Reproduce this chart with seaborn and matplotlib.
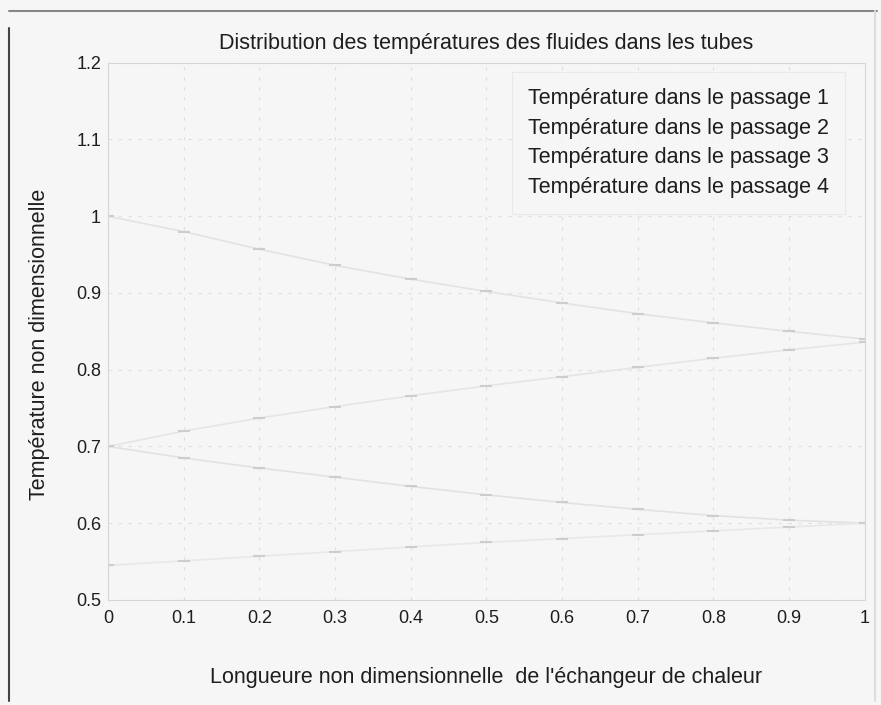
import numpy as np
import pandas as pd
import matplotlib
matplotlib.use("Agg")
import matplotlib.pyplot as plt
import seaborn as sns

x = [0.0, 0.1, 0.2, 0.3, 0.4, 0.5, 0.6, 0.7, 0.8, 0.9, 1.0]
passage1 = [1.000, 0.980, 0.957, 0.936, 0.918, 0.902, 0.887, 0.873, 0.861, 0.850, 0.840]
passage2 = [0.700, 0.720, 0.737, 0.752, 0.766, 0.779, 0.791, 0.803, 0.815, 0.826, 0.836]
passage3 = [0.700, 0.685, 0.672, 0.660, 0.648, 0.637, 0.627, 0.618, 0.610, 0.604, 0.600]
passage4 = [0.545, 0.551, 0.557, 0.563, 0.569, 0.575, 0.580, 0.585, 0.590, 0.595, 0.600]
labels = ["Température dans le passage 1", "Température dans le passage 2",
          "Température dans le passage 3", "Température dans le passage 4"]

frames = []
for lab, vals in zip(labels, [passage1, passage2, passage3, passage4]):
    frames.append(pd.DataFrame({"x": x, "y": vals, "passage": lab}))
df = pd.concat(frames, ignore_index=True)

sns.set_theme(style="white")
plt.rcParams["font.family"] = ["Liberation Sans", "DejaVu Sans"]

bg = "#f6f6f6"
txt = "#1e1e1e"
fig = plt.figure(figsize=(8.81, 7.05), dpi=100, facecolor=bg)
ax = fig.add_axes([0.1226, 0.149, 0.859, 0.762])
ax.set_facecolor(bg)

palette = ["#e3e3e3", "#e5e5e5", "#e2e2e2", "#e8e8e8"]
sns.lineplot(data=df, x="x", y="y", hue="passage", palette=palette,
             marker="_", markersize=9, linewidth=1.2, ax=ax,
             markeredgecolor="#cdcdcd", markeredgewidth=1.5)

ax.set_xlim(0, 1)
ax.set_ylim(0.5, 1.2)
ax.set_xticks(np.arange(0, 1.01, 0.1))
ax.set_xticklabels(["0", "0.1", "0.2", "0.3", "0.4", "0.5", "0.6", "0.7", "0.8", "0.9", "1"])
ax.set_yticks(np.arange(0.5, 1.21, 0.1))
ax.set_yticklabels(["0.5", "0.6", "0.7", "0.8", "0.9", "1", "1.1", "1.2"])
ax.tick_params(axis="both", labelsize=13, labelcolor=txt, direction="in",
               length=4, width=0.6, color="#cfcfcf")
ax.tick_params(axis="x", pad=7)
ax.tick_params(axis="y", pad=5)
ax.grid(True, linestyle=(0, (3, 6)), color="#e0e0e0", linewidth=0.8)
for s in ax.spines.values():
    s.set_color("#d6d6d6")
    s.set_linewidth(0.8)

ax.set_title("Distribution des températures des fluides dans les tubes",
             fontsize=15.5, color=txt, pad=10)
ax.set_xlabel("Longueure non dimensionnelle  de l'échangeur de chaleur",
              fontsize=15.5, color=txt, labelpad=29)
ax.set_ylabel("Température non dimensionnelle", fontsize=15.5, color=txt)
ax.yaxis.set_label_coords(-0.076, 0.475)

leg = ax.legend(loc="upper right", fontsize=15.5, frameon=True,
                handlelength=0, handletextpad=0, borderpad=0.75,
                labelspacing=0.4, borderaxespad=0,
                bbox_to_anchor=(0.974, 0.983))
leg.get_frame().set_facecolor(bg)
leg.get_frame().set_edgecolor("#e6e6e6")
leg.get_frame().set_linewidth(0.8)
leg.get_frame().set_boxstyle("square", pad=0)
for t in leg.get_texts():
    t.set_color(txt)
for h in leg.legend_handles:
    h.set_visible(False)

# scanned page frame
fig.add_artist(plt.Line2D([0.010, 0.010], [0.005, 0.96], transform=fig.transFigure,
                          color="#444444", linewidth=1.5))
fig.add_artist(plt.Line2D([0.010, 0.995], [0.985, 0.985], transform=fig.transFigure,
                          color="#888888", linewidth=1.5))
fig.add_artist(plt.Line2D([0.993, 0.993], [0.005, 0.985], transform=fig.transFigure,
                          color="#dddddd", linewidth=1.5))

fig.savefig("out.png", dpi=100, facecolor=bg)
